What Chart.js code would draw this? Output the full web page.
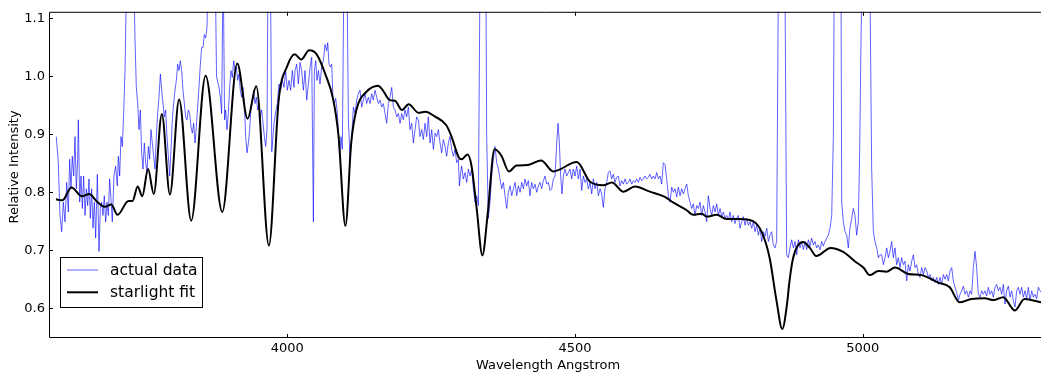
<!DOCTYPE html>
<html><head><meta charset="utf-8">
<script src="https://cdn.jsdelivr.net/npm/chart.js@4"></script>
<style>html,body{margin:0;padding:0;background:#fff;}canvas{display:block}</style>
</head><body>
<canvas id="c" width="1041" height="376"></canvas>
<script>
// ---- data ----
const actualWave = [
3598.6,3602.1,3605.0,3607.9,3610.8,3613.7,3616.6,3619.5,3621.8,3624.1,3626.4,3628.8,3631.1,3633.4,3635.7,3636.9,3639.2,3641.5,3643.8,3646.1,
3648.5,3650.8,3653.1,3655.4,3657.7,3660.0,3662.4,3664.7,3667.0,3669.9,3672.8,3675.1,3677.4,3679.7,3682.0,3684.4,3686.7,3689.0,3691.3,3693.6,
3695.9,3698.8,3701.7,3704.6,3706.4,3708.7,3711.0,3713.3,3715.6,3718.0,3722,3727,3732,3735.3,3737.6,3740.0,3742.3,3744.6,3746.9,3749.2,
3751.5,3753.9,3756.2,3758.5,3760.8,3763.1,3765.4,3767.8,3770.1,3772.4,3774.7,3777.0,3779.4,3781.7,3784.0,3786.3,3788.6,3790.9,3793.3,3795.6,
3797.9,3800.2,3802.5,3804.8,3807.2,3809.5,3811.8,3814.1,3816.4,3818.7,3821.1,3823.4,3825.7,3828.0,3830.3,3832.6,3835.0,3837.3,3839.6,3841.9,
3844.2,3846.5,3848.9,3851.2,3853.5,3855.8,3858.1,3860.4,3864,3869,3874,3877,3881.3,3883.6,3885.9,3888.5,3891,3892.9,3895.2,3897.5,
3899.8,3902.1,3904.5,3906.8,3909.1,3911.4,3913.7,3916.0,3918.4,3920.7,3923.0,3925.3,3927.6,3930.0,3932.3,3934.6,3936.9,3939.2,3941.5,3943.9,
3946.2,3948.5,3950.8,3953.1,3955.4,3957.8,3960.1,3962.4,3964.7,3966.5,3968.5,3970.5,3973,3977,3980,3982.6,3985.5,3988.4,3991.3,3994.2,
3997.1,4000.0,4002.9,4005.8,4008.7,4011.6,4013.4,4016.3,4019.2,4022.1,4025.0,4027.9,4030.8,4033.7,4036.6,4039.5,4042.4,4045.3,4047.0,4049.3,
4051.6,4054.0,4056.8,4059.7,4062.6,4065.5,4068.4,4070.2,4072.5,4074.8,4077.1,4079.4,4081.7,4084.1,4086.4,4088.7,4091.0,4093.3,4095.6,4098.5,
4101,4103.5,4106.1,4109.0,4111.9,4114.8,4117.7,4120.6,4123.4,4126.3,4129.2,4132.1,4135.0,4137.9,4140.8,4143.7,4146.6,4149.5,4152.4,4155.3,
4158.2,4161.1,4164.0,4166.9,4169.8,4172.7,4175.6,4178.5,4181.4,4184.3,4187.2,4190.1,4193.0,4195.9,4198.7,4201.6,4204.5,4207.4,4210.3,4213.2,
4216.1,4219.0,4221.9,4224.8,4227.7,4230.6,4233.5,4236.4,4239.3,4242.2,4245.1,4248.0,4250.9,4253.8,4256.7,4259.6,4262.5,4265.4,4268.2,4271.1,
4274.0,4276.9,4279.8,4282.7,4285.6,4288.5,4291.4,4294.3,4297.2,4299.0,4301.3,4303.0,4305.9,4308.8,4311.7,4314.6,4317.5,4320.4,4323.3,4326.2,
4329.1,4332.0,4335,4340,4345,4346.4,4349.3,4352.2,4355.1,4358.0,4360.9,4363.8,4366.7,4369.6,4372.5,4375.4,4378.3,4381.2,4384.1,4387.0,
4389.9,4392.8,4395.7,4398.6,4401.5,4404.4,4407.3,4410.2,4413.0,4415.9,4418.8,4421.7,4424.6,4427.5,4430.4,4433.3,4436.2,4439.1,4442.0,4444.9,
4447.8,4450.7,4453.6,4456.5,4459.4,4462.3,4465.2,4468.1,4470.4,4472.7,4475.0,4477.3,4479.6,4482.5,4485.4,4488.3,4491.2,4494.1,4497.0,4499.9,
4502.8,4505.7,4508.6,4511.5,4514.4,4517.3,4520.2,4523.1,4526.0,4528.9,4531.8,4534.7,4537.6,4540.5,4543.4,4546.2,4549.1,4552.0,4554.9,4557.8,
4560.7,4563.6,4566.5,4569.4,4572.3,4575.2,4578.1,4581.0,4583.9,4586.8,4589.7,4592.6,4595.5,4598.4,4601.3,4604.2,4607.1,4610.0,4612.9,4615.8,
4618.7,4621.5,4624.4,4627.3,4630.2,4633.1,4636.0,4638.9,4641.8,4644.7,4647.6,4650.5,4653.4,4656.3,4659.2,4662.1,4665.0,4667.9,4670.8,4673.7,
4676.6,4679.5,4682.4,4685.3,4688.2,4691.1,4694.0,4696.9,4699.7,4702.6,4705.5,4708.4,4711.3,4714.2,4717.1,4720.0,4722.9,4725.8,4728.7,4731.6,
4734.5,4737.4,4740.3,4743.2,4746.1,4749.0,4751.9,4754.8,4757.7,4760.6,4763.5,4766.4,4769.3,4772.2,4775.0,4777.9,4780.8,4783.7,4786.6,4789.5,
4792.4,4795.3,4798.2,4801.1,4804.0,4806.9,4809.8,4812.7,4815.6,4818.5,4821.4,4824.3,4827.2,4830.1,4833.0,4835.9,4838.7,4841.6,4844.5,4847.4,
4850.3,4853.5,4859,4864.5,4867.7,4870.6,4873.5,4876.4,4879.3,4882.2,4885.1,4888.0,4890.9,4893.8,4896.7,4899.6,4902.4,4905.3,4908.2,4911.1,
4914.0,4916.9,4919.8,4922.7,4925.6,4928.5,4931.4,4934.3,4937.2,4940.1,4943.0,4945.9,4948.8,4950.5,4956,4962,4963.3,4966.2,4969.1,4972.0,
4974.8,4977.7,4980.6,4983.5,4986.4,4989.3,4992.2,4994.5,4996.9,4999,5005,5012,5015.4,5018.3,5021.2,5024.1,5027.0,5029.9,5032.8,5035.7,
5038.6,5041.5,5044.4,5047.2,5050.1,5053.0,5055.9,5058.8,5061.7,5064.6,5067.5,5070.4,5073.3,5076.2,5079.1,5082.0,5084.9,5087.8,5090.7,5093.6,
5096.5,5099.4,5102.3,5105.2,5108.1,5111.0,5113.9,5116.8,5119.6,5122.5,5125.4,5128.3,5131.2,5134.1,5137.0,5139.9,5142.8,5145.7,5148.6,5151.5,
5154.4,5157.3,5160.2,5163.1,5166.0,5168.9,5171.8,5174.7,5177.6,5180.5,5183.4,5186.3,5189.2,5192.0,5194.9,5197.8,5200.7,5203.6,5206.5,5209.4,
5212.3,5215.2,5218.1,5221.0,5223.9,5226.8,5229.7,5232.6,5235.5,5238.4,5241.3,5244.2,5247.1,5250.0,5252.9,5255.8,5258.6,5261.5,5264.4,5267.3,
5270.2,5273.1,5276.0,5278.9,5281.8,5284.7,5287.6,5290.5,5293.4,5296.3,5299.2,5302.1,5305.0,5307.9,5312
];
const actualFlux = [
0.896,0.851,0.760,0.732,0.783,0.749,0.817,0.766,0.857,0.806,0.862,0.828,0.896,0.806,0.857,0.925,0.783,0.828,0.772,0.828,
0.760,0.806,0.777,0.823,0.755,0.806,0.738,0.783,0.721,0.831,0.698,0.772,0.783,0.760,0.794,0.749,0.783,0.760,0.823,0.789,
0.749,0.828,0.845,0.811,0.862,0.828,0.896,0.879,0.936,1.010,1.25,1.5,1.25,1.066,0.981,0.953,0.908,0.942,0.868,0.840,
0.885,0.851,0.834,0.879,0.857,0.908,0.885,0.862,0.840,0.896,0.936,0.964,1.004,0.976,0.953,0.930,0.942,0.896,0.862,0.828,
0.874,0.925,0.953,0.976,0.993,1.021,1.010,1.027,1.010,0.976,0.953,0.930,0.925,0.942,0.936,0.913,0.902,0.919,0.885,0.913,
0.947,0.981,1.021,1.050,1.050,1.072,1.066,1.084,1.25,1.5,1.25,1.0,0.981,0.964,0.936,1.2,0.925,0.942,0.908,0.936,
0.981,1.010,0.998,1.027,1.010,1.016,0.993,1.004,0.976,0.964,0.981,0.953,0.896,0.868,0.885,0.908,0.947,0.953,0.976,0.953,
0.964,0.942,0.953,0.930,0.942,0.919,0.896,0.879,0.908,1.2,1.5,1.2,0.87,0.92,0.94,0.953,0.987,0.976,0.993,0.981,
1.010,0.976,0.993,0.976,1.010,0.981,1.010,1.021,0.987,1.024,1.010,0.976,1.010,0.959,0.987,1.016,1.033,0.749,1.010,1.027,
0.993,1.010,0.987,1.016,1.027,1.055,1.044,1.058,1.021,1.016,1.021,0.959,0.953,0.962,0.942,0.908,0.862,0.896,0.874,1.2,
1.4,1.2,0.925,0.857,0.896,0.947,0.936,0.959,0.970,0.976,0.947,0.959,0.970,0.953,0.964,0.953,0.970,0.959,0.976,0.964,
0.953,0.959,0.947,0.953,0.936,0.919,0.953,0.964,0.981,0.947,0.942,0.930,0.936,0.919,0.936,0.925,0.942,0.930,0.947,0.908,
0.919,0.885,0.908,0.930,0.925,0.896,0.908,0.891,0.919,0.896,0.930,0.885,0.908,0.874,0.902,0.896,0.908,0.885,0.868,0.891,
0.879,0.862,0.885,0.896,0.874,0.862,0.874,0.851,0.857,0.811,0.834,0.845,0.823,0.834,0.817,0.840,0.828,0.840,0.806,0.783,
0.794,0.777,1.2,1.4,1.2,0.896,0.755,0.783,0.828,0.857,0.879,0.851,0.840,0.823,0.806,0.817,0.794,0.772,0.800,0.811,
0.794,0.806,0.817,0.794,0.811,0.800,0.817,0.806,0.823,0.811,0.820,0.794,0.817,0.806,0.814,0.800,0.811,0.817,0.806,0.820,
0.828,0.814,0.817,0.803,0.806,0.823,0.828,0.885,0.919,0.885,0.828,0.797,0.828,0.840,0.828,0.834,0.840,0.823,0.840,0.828,
0.845,0.823,0.840,0.803,0.828,0.817,0.823,0.806,0.817,0.797,0.823,0.806,0.817,0.794,0.806,0.797,0.774,0.806,0.817,0.834,
0.837,0.823,0.831,0.817,0.826,0.828,0.811,0.820,0.814,0.823,0.814,0.817,0.823,0.814,0.820,0.817,0.823,0.817,0.826,0.820,
0.823,0.828,0.823,0.826,0.831,0.823,0.828,0.823,0.834,0.823,0.828,0.814,0.851,0.848,0.823,0.794,0.783,0.809,0.800,0.806,
0.792,0.809,0.794,0.806,0.797,0.806,0.814,0.794,0.783,0.772,0.780,0.760,0.777,0.772,0.783,0.760,0.777,0.766,0.749,0.794,
0.772,0.760,0.777,0.766,0.780,0.760,0.772,0.758,0.766,0.755,0.760,0.752,0.766,0.749,0.760,0.746,0.755,0.760,0.738,0.749,
0.758,0.743,0.755,0.743,0.749,0.738,0.749,0.732,0.743,0.726,0.738,0.715,0.732,0.724,0.738,0.715,0.726,0.732,0.709,0.704,
0.715,1.2,1.5,1.2,0.692,0.687,0.704,0.718,0.704,0.715,0.692,0.718,0.704,0.715,0.701,0.715,0.701,0.718,0.707,0.721,
0.709,0.715,0.704,0.709,0.701,0.715,0.707,0.715,0.721,0.726,0.738,0.760,0.896,1.2,1.5,1.2,0.783,0.749,0.732,0.726,
0.704,0.738,0.755,0.772,0.760,0.726,0.749,0.868,1.066,1.2,1.5,1.2,0.840,0.732,0.715,0.704,0.687,0.692,0.692,0.675,
0.687,0.704,0.687,0.698,0.715,0.687,0.704,0.675,0.687,0.670,0.687,0.675,0.681,0.647,0.675,0.664,0.681,0.692,0.670,0.675,
0.658,0.653,0.670,0.658,0.670,0.664,0.653,0.658,0.647,0.653,0.644,0.653,0.641,0.653,0.641,0.658,0.650,0.658,0.647,0.664,
0.670,0.647,0.636,0.627,0.613,0.624,0.630,0.638,0.624,0.630,0.619,0.630,0.624,0.670,0.698,0.670,0.624,0.619,0.630,0.624,
0.630,0.621,0.636,0.624,0.630,0.619,0.636,0.641,0.630,0.636,0.624,0.641,0.607,0.630,0.638,0.619,0.630,0.613,0.602,0.630,
0.636,0.624,0.636,0.619,0.630,0.616,0.636,0.613,0.630,0.619,0.624,0.616,0.636,0.630,0.625
];
const fitWave = [
3598,3609,3625,3643,3656,3669,3683,3694,3705,3724,3731,3740,3748,3758,3768,3782,3796,3812,3833,3858,
3887,3913,3931,3946,3968,3985,4000,4013,4024,4038,4051,4066,4080,4089,4101,4111,4120,4137,4158,4166,
4178,4187,4199,4211,4228,4240,4256,4276,4285,4298,4303,4313,4320,4329,4339,4348,4360,4372,4385,4398,
4418,4441,4462,4503,4526,4549,4564,4584,4604,4630,4656,4671,4694,4705,4720,4729,4746,4763,4786,4809,
4824,4838,4850,4860,4869,4872,4879,4896,4908,4919,4944,4966,4986,5001,5012,5027,5041,5056,5079,5102,
5131,5151,5168,5189,5212,5227,5244,5264,5281,5310
];
const fitFlux = [
0.788,0.786,0.808,0.793,0.797,0.784,0.775,0.779,0.761,0.785,0.785,0.810,0.793,0.840,0.797,0.935,0.796,0.960,0.751,1.001,
0.766,1.022,0.927,0.983,0.708,0.959,1.018,1.038,1.029,1.045,1.038,1.004,0.959,0.897,0.742,0.885,0.942,0.973,0.984,0.976,
0.959,0.958,0.942,0.952,0.937,0.939,0.931,0.916,0.897,0.860,0.857,0.865,0.846,0.772,0.691,0.761,0.874,0.863,0.836,0.846,
0.847,0.855,0.836,0.852,0.818,0.812,0.817,0.801,0.810,0.801,0.792,0.782,0.769,0.761,0.763,0.758,0.761,0.754,0.754,0.750,
0.732,0.687,0.613,0.564,0.613,0.642,0.687,0.714,0.704,0.690,0.704,0.697,0.681,0.670,0.657,0.664,0.663,0.670,0.659,0.657,
0.644,0.636,0.610,0.616,0.617,0.614,0.619,0.596,0.616,0.610
];
const seriesNames = ['actual data', 'starlight fit'];
const xTicks = [4000, 4500, 5000];
const yTicks = [0.6, 0.7, 0.8, 0.9, 1.0, 1.1];
const xRange = [3585.9, 5309.6];
const yRange = [0.5485, 1.1114];
const xTitle = 'Wavelength Angstrom';
const yTitle = 'Relative Intensity';

// ---- chart ----
const FONT = 'DejaVu Sans';
const zip = (xs, ys) => xs.map((x, i) => ({x: x, y: ys[i]}));

const framePlugin = {
  id: 'frame',
  afterDraw(chart) {
    const ctx = chart.ctx, a = chart.chartArea;
    const xs = chart.scales.x, ys = chart.scales.y;
    ctx.save();
    ctx.strokeStyle = '#000';
    ctx.lineWidth = 1;
    ctx.beginPath();
    ctx.moveTo(chart.width + 5, a.top + 0.5);
    ctx.lineTo(a.left + 0.5, a.top + 0.5);
    ctx.lineTo(a.left + 0.5, a.bottom - 0.5);
    ctx.lineTo(chart.width + 5, a.bottom - 0.5);
    ctx.stroke();
    // inward tick marks
    ctx.beginPath();
    xTicks.forEach(v => {
      const px = Math.round(xs.getPixelForValue(v)) + 0.5;
      ctx.moveTo(px, a.bottom); ctx.lineTo(px, a.bottom - 4);
      ctx.moveTo(px, a.top); ctx.lineTo(px, a.top + 4);
    });
    yTicks.forEach(v => {
      const py = Math.round(ys.getPixelForValue(v)) + 0.5;
      ctx.moveTo(a.left, py); ctx.lineTo(a.left + 4, py);
    });
    ctx.stroke();
    // axis titles
    ctx.fillStyle = '#000';
    ctx.font = '13px "' + FONT + '"';
    ctx.textAlign = 'center';
    ctx.textBaseline = 'alphabetic';
    ctx.fillText(xTitle, 548, 369);
    ctx.save();
    ctx.translate(18, 167);
    ctx.rotate(-Math.PI / 2);
    ctx.fillText(yTitle, 0, 0);
    ctx.restore();
    // legend
    const lx = 60.5, ly = 257.5, lw = 142, lh = 50;
    ctx.fillStyle = '#fff';
    ctx.fillRect(lx, ly, lw, lh);
    ctx.strokeStyle = '#000';
    ctx.lineWidth = 1;
    ctx.strokeRect(lx, ly, lw, lh);
    const rows = [270, 292.3];
    chart.data.datasets.forEach((ds, i) => {
      const y = rows[i];
      ctx.beginPath();
      ctx.strokeStyle = ds.borderColor;
      ctx.lineWidth = ds.borderWidth;
      ctx.moveTo(67, y); ctx.lineTo(98, y);
      ctx.stroke();
      ctx.fillStyle = '#000';
      ctx.font = '15.5px "' + FONT + '"';
      ctx.textAlign = 'left';
      ctx.textBaseline = 'middle';
      ctx.fillText(ds.label, 110, y + 0.5);
    });
    ctx.restore();
  }
};

new Chart(document.getElementById('c'), {
  type: 'line',
  data: {
    datasets: [
      { label: seriesNames[0], data: zip(actualWave, actualFlux), borderColor: 'rgba(0,0,255,0.62)',
        borderWidth: 1, pointRadius: 0, tension: 0, order: 1 },
      { label: seriesNames[1], data: zip(fitWave, fitFlux), borderColor: '#000',
        borderWidth: 2, pointRadius: 0, cubicInterpolationMode: 'monotone', order: 0 }
    ]
  },
  options: {
    responsive: false,
    animation: false,
    events: [],
    parsing: false,
    layout: { padding: { top: 7, right: 0, bottom: 0, left: 0 } },
    plugins: { legend: { display: false }, tooltip: { enabled: false } },
    scales: {
      x: {
        type: 'linear', min: xRange[0], max: xRange[1],
        grid: { display: false, drawTicks: false }, border: { display: false },
        afterBuildTicks: s => { s.ticks = xTicks.map(v => ({ value: v })); },
        afterFit: s => { s.height = 38; },
        ticks: { font: { family: FONT, size: 13 }, color: '#000', padding: 3, maxRotation: 0, autoSkip: false,
                 callback: v => String(v) }
      },
      y: {
        type: 'linear', min: yRange[0], max: yRange[1],
        grid: { display: false, drawTicks: false }, border: { display: false },
        afterBuildTicks: s => { s.ticks = yTicks.map(v => ({ value: v })); },
        afterFit: s => { s.width = 49; },
        ticks: { font: { family: FONT, size: 13 }, color: '#000', padding: 4, autoSkip: false,
                 callback: v => Number(v).toFixed(1) }
      }
    }
  },
  plugins: [framePlugin]
});
</script>
</body></html>
